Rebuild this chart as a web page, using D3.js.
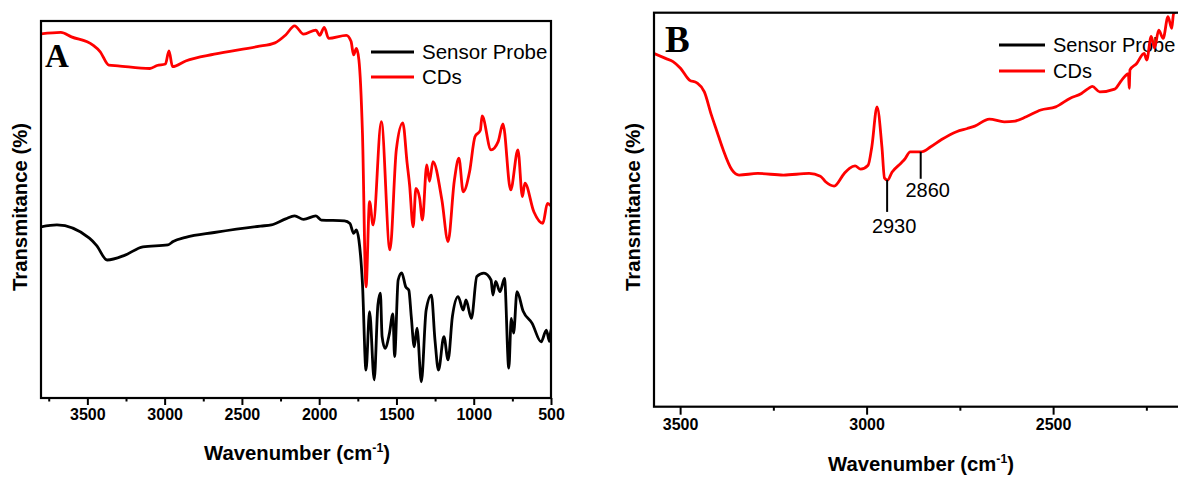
<!DOCTYPE html>
<html><head><meta charset="utf-8">
<script src="https://cdn.jsdelivr.net/npm/d3@7/dist/d3.min.js"></script>
<style>body{margin:0;background:#fff}svg{display:block}</style>
</head><body>
<svg id="c" width="1178" height="477"></svg>
<script>
// ---- Panel A data (wavenumber cm^-1, transmittance %) ----
const aCDsWn = [3800,3672,3603,3464,3418,3361,3302,3095,3049,2995,2972,2949,2864,2679,2402,2286,2217,2159,2101,2021,1997,1967,1939,1824,1794,1777,1759,1743,1720,1697,1674,1651,1598,1542,1501,1459,1431,1415,1392,1374,1350,1332,1304,1286,1264,1206,1166,1126,1096,1068,1027,992,957,946,888,842,811,761,714,685,669,611,553,523,495];
const aCDsT  = [96.6,97.0,95.8,93.6,91.9,88.3,88.1,87.4,88.2,88.6,92.1,87.9,89.4,91.2,93.2,94.2,96.3,98.7,96.5,97.6,96.2,98.3,95.4,96.2,94.6,91.0,92.7,89.7,70.3,29.5,52.1,45.9,73.3,39.3,65.8,73.0,62.3,56.5,45.4,55.6,53.0,47.2,61.8,57.5,62.7,52.5,41.5,57.5,63.6,54.7,60.0,69.3,71.0,74.8,65.8,68.0,72.7,55.2,65.8,53.4,57.0,49.4,46.3,51.6,50.7];
const aProbeWn = [3800,3697,3487,3441,3372,3256,3141,2979,2945,2864,2679,2379,2309,2217,2159,2101,2021,1986,1836,1801,1777,1759,1743,1720,1697,1674,1644,1620,1604,1593,1574,1546,1523,1512,1489,1466,1440,1420,1404,1385,1367,1339,1308,1274,1251,1228,1193,1166,1138,1101,1068,1050,1015,980,934,888,876,858,830,801,773,757,742,720,680,622,564,530,510,500,495];
const aProbeT  = [45.4,45.9,42.4,40.5,36.6,37.9,40.1,40.6,41.5,42.6,43.9,45.6,45.9,47.5,48.3,47.4,48.3,47.2,47.0,46.3,43.7,44.6,41.9,30.4,7.4,22.9,4.8,24.7,27.8,16.3,13.2,17.0,22.3,11.0,31.3,33.2,29.5,28.6,21.5,13.6,18.5,4.3,23.3,27.3,15.5,7.4,16.3,10.1,21.6,26.9,23.3,26.0,21.1,32.2,33.1,31.3,27.3,30.9,28.2,31.7,7.9,21.1,17.2,28.2,23.0,19.8,14.9,18.0,15.0,18.2,13.6];
const aTickLabels = [3500,3000,2500,2000,1500,1000,500];
const aMinorTicks = [3750,3250,2750,2250,1750,1250,750];

// ---- Panel B data (CDs, zoomed) ----
const bCDsWn = [3571,3539,3519,3499,3475,3455,3435,3416,3401,3386,3361,3342,3292,3223,3154,3124,3110,3087,3060,3046,3031,3016,2996,2986,2972,2959,2952,2944,2932,2908,2898,2883,2853,2829,2799,2759,2730,2710,2671,2631,2602,2572,2533,2493,2454,2424,2405,2395,2375,2335,2316,2298,2296,2294,2276,2256,2249,2237,2228,2217,2205,2192,2182,2177,2150,2100];
const bCDsT  = [89.7,88.4,87.6,85.9,82.9,82.2,79.9,74.0,69.8,65.6,60.1,58.8,59.2,58.8,59.2,58.5,57.1,56.0,59.2,60.5,61.1,60.3,61.3,66.0,76.1,66.0,58.0,57.5,59.5,61.8,62.8,64.7,64.7,65.9,67.8,69.8,70.6,71.2,73.0,72.3,72.5,73.6,75.3,76.1,78.3,79.5,80.8,81.3,79.9,80.6,82.9,84.5,80.8,85.5,87.1,89.7,88.0,94.0,91.0,95.6,93.5,99.0,96.0,99.8,101,102];
const bTickLabels = [3500,3000,2500];
const bMinorTicks = [3250,2750,2250];
const bAnnotLabels = ["2930","2860"];
const bAnnotMarkWn = [2945,2855];

const seriesNames = ["Sensor Probe","CDs"];
const seriesColors = ["#000000","#ff0000"];

const svg = d3.select("#c");
const serif = "'Liberation Serif','Times New Roman',serif";
const sans = "'Liberation Sans',Arial,Helvetica,sans-serif";

function panel(opt){
  const g = svg.append("g");
  const x = d3.scaleLinear().domain(opt.xDomain).range([opt.left, opt.right]);
  const y = d3.scaleLinear().domain([0,100]).range([opt.bottom, opt.top]);
  const id = "clip"+opt.name;
  svg.append("clipPath").attr("id",id).append("rect")
    .attr("x",opt.left).attr("y",opt.top).attr("width",opt.right-opt.left).attr("height",opt.bottom-opt.top);

  // legend
  const lg = g.append("g");
  seriesNames.forEach((n,i)=>{
    const ly = opt.legY + i*opt.legDy;
    lg.append("line").attr("x1",opt.legX).attr("x2",opt.legX+opt.legLen).attr("y1",ly).attr("y2",ly)
      .attr("stroke",seriesColors[i]).attr("stroke-width",3);
    lg.append("text").attr("x",opt.legX+opt.legLen+8).attr("y",ly+7).text(n)
      .attr("font-family",sans).attr("font-size",opt.legFont).attr("fill","#000");
  });

  // lines
  const line = d3.line().x(d=>x(d[0])).y(d=>y(d[1])).curve(d3.curveMonotoneX);
  opt.series.forEach(s=>{
    const data = s.wn.map((w,i)=>[w,s.t[i]]);
    g.append("path").attr("d",line(data)).attr("fill","none").attr("stroke",s.color)
      .attr("stroke-width",2.8).attr("stroke-linejoin","round").attr("clip-path",`url(#${id})`);
  });

  // axis
  const ax = d3.axisBottom(x).tickValues(opt.ticks).tickFormat(d3.format("d")).tickSize(opt.tickLen).tickPadding(4);
  const axg = g.append("g").attr("transform",`translate(0,${opt.bottom})`).call(ax);
  axg.select(".domain").remove();
  axg.selectAll(".tick line").attr("stroke","#000").attr("stroke-width",2);
  axg.selectAll(".tick text").attr("font-family",sans).attr("font-weight","bold").attr("font-size",opt.tickFont).attr("fill","#000");
  const minor = d3.axisBottom(x).tickValues(opt.minor).tickFormat("").tickSize(opt.tickLen/2);
  const mg = g.append("g").attr("transform",`translate(0,${opt.bottom})`).call(minor);
  mg.select(".domain").remove();
  mg.selectAll(".tick line").attr("stroke","#000").attr("stroke-width",2);

  // frame
  g.append("rect").attr("x",opt.left).attr("y",opt.top).attr("width",opt.right-opt.left).attr("height",opt.bottom-opt.top)
    .attr("fill","none").attr("stroke","#000").attr("stroke-width",2.2);

  // titles
  const xt = g.append("text").attr("x",opt.xTitleX).attr("y",opt.xTitleY).attr("text-anchor","middle")
    .attr("font-family",sans).attr("font-weight","bold").attr("font-size",opt.titleFont).attr("fill","#000");
  xt.append("tspan").text("Wavenumber (cm");
  xt.append("tspan").text("-1").attr("font-size",opt.titleFont*0.6).attr("dy",-opt.titleFont*0.4);
  xt.append("tspan").text(")").attr("dy",opt.titleFont*0.4);
  g.append("text").attr("transform",`translate(${opt.yTitleX},${opt.yTitleY}) rotate(-90)`).attr("text-anchor","middle")
    .attr("font-family",sans).attr("font-weight","bold").attr("font-size",opt.titleFont).attr("fill","#000")
    .text("Transmitance (%)");

  // panel letter
  g.append("text").attr("x",opt.letterX).attr("y",opt.letterY).text(opt.name)
    .attr("font-family",serif).attr("font-weight","bold").attr("font-size",opt.letterFont).attr("fill","#000");
  return {g,x,y};
}

panel({name:"A", xDomain:[3800,500], left:41, right:551, top:21, bottom:398,
  ticks:aTickLabels, minor:aMinorTicks, tickLen:7, tickFont:16,
  series:[{wn:aProbeWn,t:aProbeT,color:seriesColors[0]},{wn:aCDsWn,t:aCDsT,color:seriesColors[1]}],
  legX:371, legY:52, legDy:25, legLen:43, legFont:20.5,
  xTitleX:297, xTitleY:460, yTitleX:27, yTitleY:207, titleFont:20.3,
  letterX:45, letterY:67, letterFont:33});

const B = panel({name:"B", xDomain:[3570,2000], left:654, right:654+1570*186.5/500, top:12.7, bottom:406.7,
  ticks:bTickLabels, minor:bMinorTicks, tickLen:8, tickFont:16,
  series:[{wn:bCDsWn,t:bCDsT,color:seriesColors[1]}],
  legX:999, legY:45, legDy:26, legLen:46, legFont:20,
  xTitleX:921, xTitleY:471, yTitleX:640, yTitleY:207, titleFont:20.3,
  letterX:665, letterY:52, letterFont:37});

// annotations in panel B
const annLen = [32,27], annTy = [53,45];
bAnnotMarkWn.forEach((wn,i)=>{
  const xi = bCDsWn.findIndex(w=>w<=wn);
  const w0=bCDsWn[xi-1], w1=bCDsWn[xi], t0=bCDsT[xi-1], t1=bCDsT[xi];
  const tv = t0 + (t1-t0)*(wn-w0)/(w1-w0);
  const px = B.x(wn), py = B.y(tv);
  B.g.append("line").attr("x1",px).attr("x2",px).attr("y1",py).attr("y2",py+annLen[i])
    .attr("stroke","#000").attr("stroke-width",2);
  B.g.append("text").attr("x",px+7).attr("y",py+annTy[i]).attr("text-anchor","middle")
    .attr("font-family",sans).attr("font-size",20).attr("fill","#000").text(bAnnotLabels[i]);
});
</script>
</body></html>
